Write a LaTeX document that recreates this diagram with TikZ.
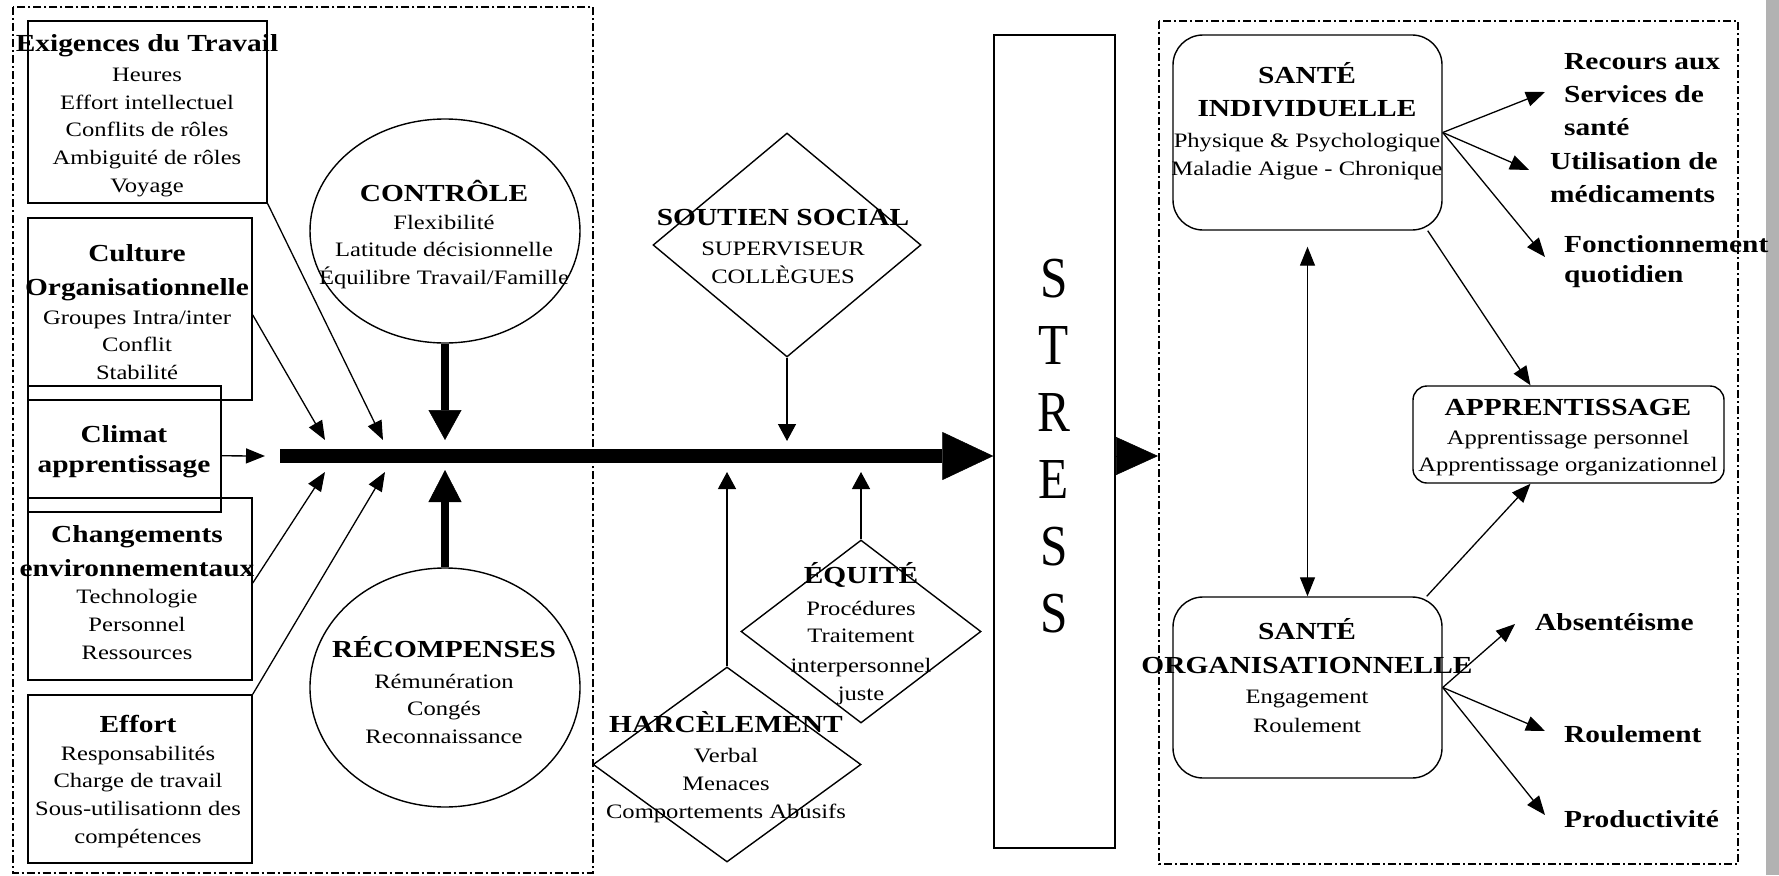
\documentclass[tikz,border=0pt]{standalone}
\usepackage{fontspec}
\setmainfont[FakeStretch=1.2]{Liberation Serif}
\newfontfamily\stressfont[FakeStretch=0.85]{Liberation Serif}
\usetikzlibrary{arrows.meta,shapes.geometric}
\newcommand\mytitle[1]{{\bfseries\fontsize{24.5}{27.7}\selectfont #1}}
\begin{document}
\begin{tikzpicture}[x=1pt,y=-1pt,
  txt/.style={inner sep=0pt, align=center, font=\fontsize{20.5}{27.7}\selectfont},
  lbl/.style={inner sep=0pt, align=left, anchor=west, font=\bfseries\fontsize{24.5}{27.7}\selectfont},
  box/.style={draw, line width=1.4pt, inner sep=0pt, rectangle},
  rbox/.style={box, rounded corners=30pt},
  ell/.style={draw, line width=1.4pt, inner sep=0pt, ellipse},
  dia/.style={draw, line width=1.4pt, inner sep=0pt, diamond},
  thin/.style={line width=1.3pt, -{Triangle[length=19pt,width=15pt]}},
  thinb/.style={line width=1.3pt, {Triangle[length=19pt,width=15pt]}-{Triangle[length=19pt,width=15pt]}},
  region/.style={line width=1.8pt, dash pattern=on 8pt off 3pt on 2pt off 3pt}
]
\useasboundingbox (0,0) rectangle (1779,875);
\fill[white] (0,0) rectangle (1779,875);
\fill[gray!60] (1766,0) rectangle (1779,875);

% regions
\draw[region] (12.6,7) rectangle (593,873);
\draw[region] (1159,21) rectangle (1738,864);

% left boxes
\node[box, minimum width=239, minimum height=182] (exig) at (147.5,112) {};
\node[box, minimum width=224, minimum height=182] (cult) at (140,309) {};
\node[box, minimum width=193, minimum height=126] (clim) at (124.5,449) {};
\node[box, minimum width=224, minimum height=182] (chang) at (140,589) {};
\node[box, minimum width=224, minimum height=168] (eff) at (140,779) {};

\node[txt] (exigT) at (147,115.5) {\mytitle{Exigences du Travail}\\[2.3pt] Heures\\ Effort intellectuel\\ Conflits de rôles\\ Ambiguité de rôles\\ Voyage};
\node[txt] (cultT) at (137,312) {\mytitle{Culture}\\[6pt]\mytitle{Organisationnelle}\\[1.3pt] Groupes Intra/inter\\ Conflit\\ Stabilité};
\node[txt] (climT) at (124,452) {\mytitle{Climat}\\[2.3pt]\mytitle{apprentissage}};
\node[txt] (changT) at (137,592.5) {\mytitle{Changements}\\[6pt]\mytitle{environnementaux}\\ Technologie\\ Personnel\\ Ressources};
\node[txt] (effT) at (138,781.5) {\mytitle{Effort}\\ Responsabilités\\ Charge de travail\\ Sous-utilisationn des\\ compétences};

% ellipses
\node[ell, minimum width=270, minimum height=224] (contr) at (445,231) {};
\node[ell, minimum width=270, minimum height=239] (recomp) at (445,687.5) {};
\node[txt] (contrT) at (444,234.5) {\mytitle{CONTRÔLE}\\ Flexibilité\\ Latitude décisionnelle\\ Équilibre Travail/Famille};
\node[txt] (recompT) at (444,690) {\mytitle{RÉCOMPENSES}\\[3.3pt] Rémunération\\ Congés\\ Reconnaissance};

% diamonds
\node[dia, minimum width=268, minimum height=224] (sout) at (787,245) {};
\node[dia, minimum width=240, minimum height=183] (equi) at (861,631.5) {};
\node[dia, minimum width=268, minimum height=195] (harc) at (727,764.5) {};
\node[txt] (soutT) at (783,246.5) {\mytitle{SOUTIEN SOCIAL}\\[2.3pt] SUPERVISEUR\\ COLLÈGUES};
\node[txt] (equiT) at (861,633.5) {\mytitle{ÉQUITÉ}\\[4.3pt] Procédures\\ Traitement\\[2.3pt] interpersonnel\\ juste};
\node[txt] (harcT) at (726,767) {\mytitle{HARCÈLEMENT}\\[2.3pt] Verbal\\ Menaces\\ Comportements Abusifs};

% stress
\node[box, minimum width=121, minimum height=813] (stress) at (1054.5,441.5) {};
\node[inner sep=0pt, align=center, font=\stressfont\fontsize{58}{67}\selectfont] (stressT) at (1054,446.5) {S\\T\\R\\E\\S\\S};

% right boxes
\node[rbox, minimum width=269, minimum height=195] (si) at (1307.5,132.5) {};
\node[rbox, minimum width=269, minimum height=181] (so) at (1307.5,687.5) {};
\node[box, rounded corners=14pt, minimum width=311, minimum height=97] (appr) at (1568.5,434.5) {};
\node[txt] (siT) at (1307,121) {\mytitle{SANTÉ}\\[6pt]\mytitle{INDIVIDUELLE}\\[3.3pt] Physique \& Psychologique\\ Maladie Aigue - Chronique};
\node[txt] (soT) at (1307,675.5) {\mytitle{SANTÉ}\\[6pt]\mytitle{ORGANISATIONNELLE}\\[2.3pt] Engagement\\[1.3pt] Roulement};
\node[txt] (apprT) at (1568,437.5) {\mytitle{APPRENTISSAGE}\\[1.3pt] Apprentissage personnel\\ Apprentissage organizationnel};

\node[lbl] (recT) at (1564,94.5) {Recours aux\\[6pt] Services de\\[5pt] santé};
\node[lbl] (utilT) at (1550,177.5) {Utilisation de\\[5pt] médicaments};
\node[lbl] (foncT) at (1564,261.5) {Fonctionnement\\[3pt] quotidien};
\node[lbl] (absT) at (1535,622) {Absentéisme};
\node[lbl] (roulT) at (1564,734) {Roulement};
\node[lbl] (prodT) at (1564,819) {Productivité};

% coordinates
\coordinate (t1) at (383,440);
\coordinate (t2) at (325,440);
\coordinate (t3) at (265,456);
\coordinate (t4) at (325,472);
\coordinate (t5) at (385,472);
\coordinate (tc) at (445,440);
\coordinate (tr) at (445,470);
\coordinate (barstart) at (280,456);
\coordinate (ts) at (787,441);
\coordinate (th) at (727,472);
\coordinate (te) at (861,472);
\coordinate (sout2) at (1158,456);
\coordinate (r1) at (1545,92);
\coordinate (r2) at (1529,170);
\coordinate (r3) at (1545,257);
\coordinate (r4) at (1515,624);
\coordinate (r5) at (1545,731);
\coordinate (r6) at (1545,815);

% left arrows
\draw[thin] (exig.south east) -- (t1);
\draw[thin] (cult.-3) -- (t2);
\draw[thin] (clim.-4) -- (t3);
\draw[thin] (chang.3) -- (t4);
\draw[thin] (eff.north east) -- (t5);
\draw[line width=8.4pt, -{Triangle[length=30pt,width=33pt,line width=0.5pt]}] (contr.south) -- (tc);
\draw[line width=8.4pt, -{Triangle[length=32pt,width=33pt,line width=0.5pt]}] (recomp.north) -- (tr);

% main bar
\draw[line width=14pt, -{Triangle[length=51pt,width=48pt,line width=0.5pt]}] (barstart) -- (stress.west |- barstart);

% middle arrows
\draw[line width=1.3pt, -{Triangle[length=17pt,width=18pt]}] (sout.south) -- (ts);
\draw[line width=1.3pt, -{Triangle[length=17pt,width=18pt]}] (harc.north) -- (th);
\draw[line width=1.3pt, -{Triangle[length=17pt,width=18pt]}] (equi.north) -- (te);

% stress out
\draw[line width=1pt, -{Triangle[length=42pt,width=38pt,line width=0.5pt]}] (stress.east |- barstart) -- (sout2);

% right arrows
\draw[thin] (si.east) -- (r1);
\draw[thin] (si.east) -- (r2);
\draw[thin] (si.east) -- (r3);
\draw[thin] ([xshift=-15pt]si.south east) -- ([xshift=-38pt]appr.north);
\draw[thinb] ([yshift=-16pt]si.south) -- (so.north);
\draw[thin] ([xshift=-16pt]so.north east) -- ([xshift=-38pt]appr.south);
\draw[thin] (so.east) -- (r4);
\draw[thin] (so.east) -- (r5);
\draw[thin] (so.east) -- (r6);
\end{tikzpicture}
\end{document}
